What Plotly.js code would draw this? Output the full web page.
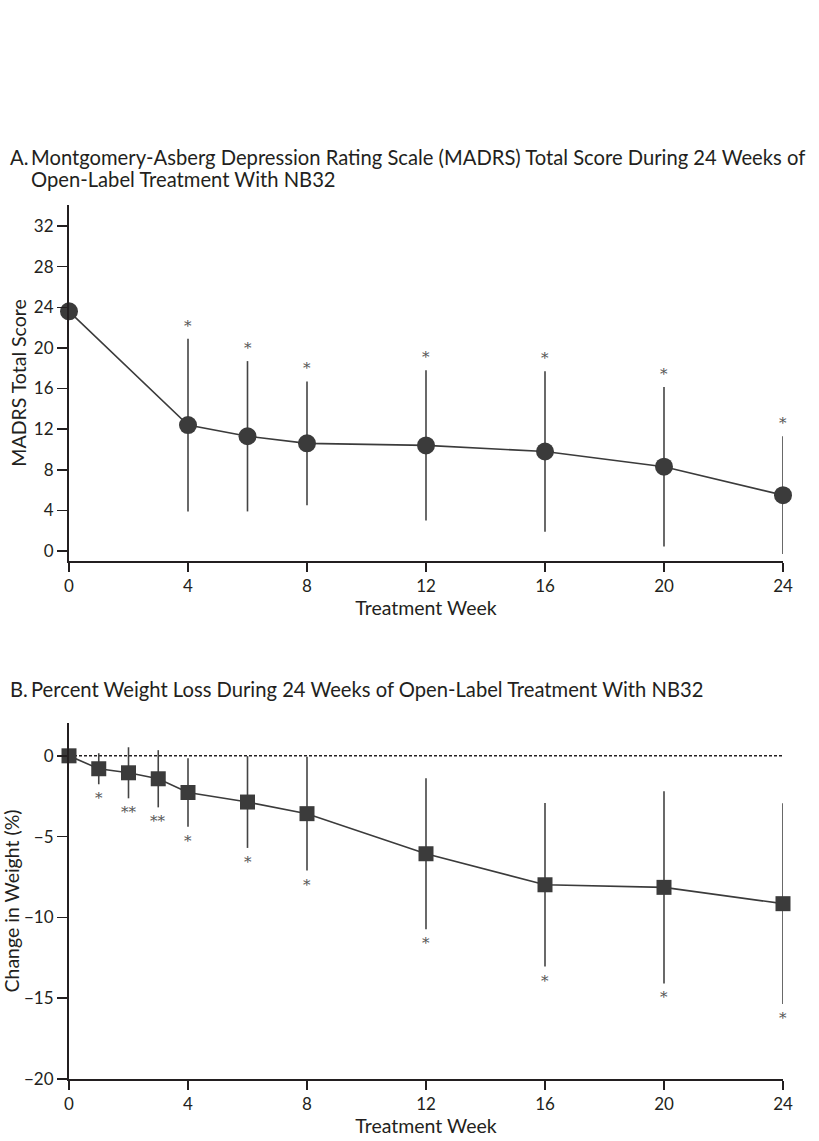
<!DOCTYPE html>
<html>
<head>
<meta charset="utf-8">
<script src="https://cdn.plot.ly/plotly-3.0.1.min.js"></script>
<style>html,body{margin:0;padding:0;background:#fff;}#chart{width:819px;height:1141px;}</style>
</head>
<body>
<div id="chart"></div>
<script>
// Panel A: MADRS total score
const weeksA = [0, 4, 6, 8, 12, 16, 20, 24];
const madrsMean = [23.6, 12.4, 11.3, 10.6, 10.4, 9.8, 8.3, 5.5];
const madrsSD = [0, 8.5, 7.4, 6.1, 7.4, 7.9, 7.85, 5.8];
const madrsSig = ['', '*', '*', '*', '*', '*', '*', '*'];

// Panel B: percent weight change
const weeksB = [0, 1, 2, 3, 4, 6, 8, 12, 16, 20, 24];
const weightMean = [0, -0.8, -1.05, -1.42, -2.27, -2.86, -3.58, -6.06, -7.98, -8.14, -9.15];
const weightSD = [0, 0.96, 1.58, 1.77, 2.12, 2.84, 3.52, 4.67, 5.06, 5.95, 6.21];
const weightSig = ['', '*', '**', '**', '*', '*', '*', '*', '*', '*', '*'];

const xTicks = [0, 4, 8, 12, 16, 20, 24];
const yTicksA = [0, 4, 8, 12, 16, 20, 24, 28, 32];
const yTicksB = [0, -5, -10, -15, -20];

const titleA1 = 'Montgomery-Asberg Depression Rating Scale (MADRS) Total Score During 24 Weeks of';
const titleA2 = 'Open-Label Treatment With NB32';
const titleB = 'Percent Weight Loss During 24 Weeks of Open-Label Treatment With NB32';

const FONT = 'Lato, "Open Sans", sans-serif';
const INK = '#231f20';
const MARK = '#3b3b3b';

const traceA = {
  x: weeksA, y: madrsMean, xaxis: 'x', yaxis: 'y', type: 'scatter', mode: 'lines+markers',
  line: {color: MARK, width: 1.6},
  marker: {symbol: 'circle', size: 18, color: MARK},
  error_y: {type: 'data', array: madrsSD, visible: true, color: '#444', thickness: 1.6, width: 0},
  cliponaxis: false, showlegend: false, hoverinfo: 'skip'
};
const traceB = {
  x: weeksB, y: weightMean, xaxis: 'x2', yaxis: 'y2', type: 'scatter', mode: 'lines+markers',
  line: {color: MARK, width: 1.6},
  marker: {symbol: 'square', size: 15, color: MARK},
  error_y: {type: 'data', array: weightSD, visible: true, color: '#444', thickness: 1.6, width: 0},
  cliponaxis: false, showlegend: false, hoverinfo: 'skip'
};

const starFont = {family: '"DejaVu Serif", serif', size: 15, color: '#555555'};
const annotations = [];
weeksA.forEach((w, i) => {
  if (!madrsSig[i]) return;
  annotations.push({x: w, y: madrsMean[i] + madrsSD[i], xref: 'x', yref: 'y', text: madrsSig[i],
    showarrow: false, yanchor: 'middle', yshift: 13, font: starFont});
});
weeksB.forEach((w, i) => {
  if (!weightSig[i]) return;
  annotations.push({x: w, y: weightMean[i] - weightSD[i], xref: 'x2', yref: 'y2', text: weightSig[i],
    showarrow: false, yanchor: 'middle', yshift: -14, font: starFont});
});
// Titles
const titleFont = {family: FONT, size: 20.2, color: INK};
annotations.push({xref: 'paper', yref: 'paper', x: -0.0855, y: 1.0, xanchor: 'left', yanchor: 'middle', yshift: 48,
  text: 'A.', showarrow: false, font: titleFont});
annotations.push({xref: 'paper', yref: 'paper', x: -0.0555, y: 1.0, xanchor: 'left', yanchor: 'middle', yshift: 48,
  text: titleA1, showarrow: false, font: titleFont});
annotations.push({xref: 'paper', yref: 'paper', x: -0.0555, y: 1.0, xanchor: 'left', yanchor: 'middle', yshift: 26,
  text: titleA2, showarrow: false, font: titleFont});
annotations.push({xref: 'paper', yref: 'paper', x: -0.0855, y: 0.4073, xanchor: 'left', yanchor: 'middle', yshift: 34,
  text: 'B.', showarrow: false, font: titleFont});
annotations.push({xref: 'paper', yref: 'paper', x: -0.0555, y: 0.4073, xanchor: 'left', yanchor: 'middle', yshift: 34,
  text: titleB, showarrow: false, font: titleFont});

const axisCommon = {
  showgrid: false, zeroline: false, showline: true, linecolor: INK, linewidth: 2,
  ticks: 'outside', ticklen: 9, tickwidth: 1.5, tickcolor: INK,
  tickfont: {family: FONT, size: 17, color: INK}
};
const axTitleFont = {family: FONT, size: 19.5, color: INK};

const layout = {
  width: 819, height: 1141,
  margin: {l: 69, r: 36, t: 205, b: 62},
  paper_bgcolor: '#fff', plot_bgcolor: '#fff',
  showlegend: false,
  xaxis: Object.assign({}, axisCommon, {
    domain: [0, 1], range: [0, 24], tickvals: xTicks, anchor: 'y',
    title: {text: 'Treatment Week', font: axTitleFont, standoff: 2}
  }),
  yaxis: Object.assign({}, axisCommon, {
    domain: [0.5927, 1], range: [-0.98, 34.07], tickvals: yTicksA, anchor: 'x', ticklen: 10,
    title: {text: 'MADRS Total Score', font: axTitleFont, standoff: 2}
  }),
  xaxis2: Object.assign({}, axisCommon, {
    domain: [0, 1], range: [0, 24], tickvals: xTicks, anchor: 'y2',
    title: {text: 'Treatment Week', font: axTitleFont, standoff: 2}
  }),
  yaxis2: Object.assign({}, axisCommon, {
    domain: [0, 0.4073], range: [-20, 2.03], tickvals: yTicksB, anchor: 'x2', ticklen: 10,
    title: {text: 'Change in Weight (%)', font: axTitleFont, standoff: 2}
  }),
  shapes: [{
    type: 'line', xref: 'x2', yref: 'y2', x0: weeksB[0], x1: weeksB[weeksB.length - 1], y0: 0, y1: 0,
    line: {color: INK, width: 1.5, dash: '3px,2px'}, layer: 'below'
  }],
  annotations: annotations
};

Plotly.newPlot('chart', [traceA, traceB], layout, {displayModeBar: false, staticPlot: true});
</script>
</body>
</html>
